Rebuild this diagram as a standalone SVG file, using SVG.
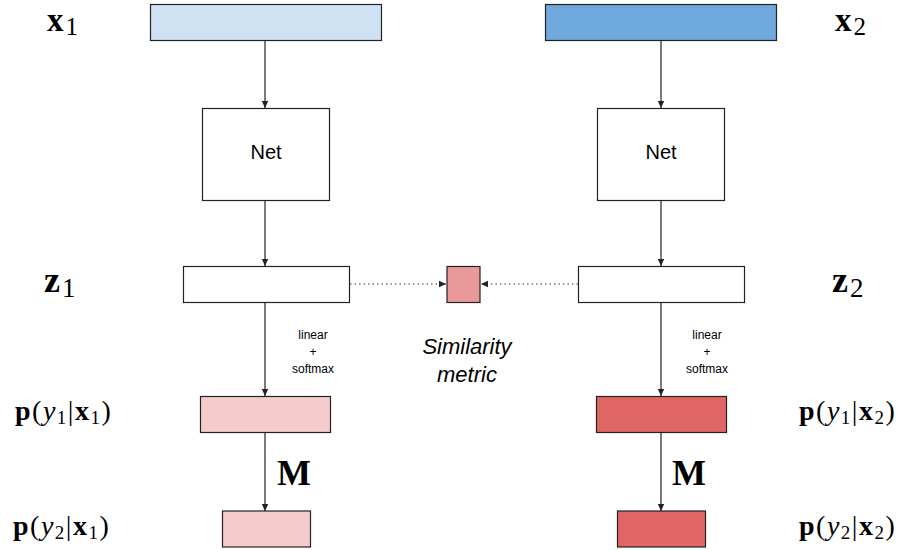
<svg xmlns="http://www.w3.org/2000/svg" width="908" height="550" viewBox="0 0 908 550">
<style>
.box{stroke:#222;stroke-width:1.2}
.conn{stroke:#333;stroke-width:1.3;fill:none}
.dot{stroke:#333;stroke-width:1.2;fill:none;stroke-dasharray:1.5,3}
.sans{font-family:"Liberation Sans",Arial,sans-serif;fill:#000}
.math{font-family:"Liberation Serif","Times New Roman",serif;fill:#000}
.big{font-size:33px}
.mid{font-size:28px;letter-spacing:1.5px}
.b{font-weight:bold}
.i{font-style:italic}
</style>
<defs>
<marker id="ah" markerWidth="8" markerHeight="8" refX="7" refY="4" orient="auto" markerUnits="userSpaceOnUse">
<path d="M0,0.8 L7,4 L0,7.2 Z" fill="#222"/>
</marker>
</defs>
<g id="connectors">
<line class="conn" x1="265" y1="40" x2="265" y2="108" marker-end="url(#ah)"/>
<line class="conn" x1="265" y1="200" x2="265" y2="266" marker-end="url(#ah)"/>
<line class="conn" x1="265" y1="302" x2="265" y2="396" marker-end="url(#ah)"/>
<line class="conn" x1="265" y1="433" x2="265" y2="511" marker-end="url(#ah)"/>
<line class="conn" x1="661" y1="40" x2="661" y2="108" marker-end="url(#ah)"/>
<line class="conn" x1="661" y1="200" x2="661" y2="266" marker-end="url(#ah)"/>
<line class="conn" x1="661" y1="302" x2="661" y2="396" marker-end="url(#ah)"/>
<line class="conn" x1="661" y1="433" x2="661" y2="511" marker-end="url(#ah)"/>
<line class="dot" x1="350" y1="284" x2="446" y2="284" marker-end="url(#ah)"/>
<line class="dot" x1="578" y1="284" x2="481" y2="284" marker-end="url(#ah)"/>
<text class="sans" font-size="12" text-anchor="middle"><tspan x="313" y="339">linear</tspan><tspan x="313" y="356">+</tspan><tspan x="313" y="373">softmax</tspan></text>
<text class="sans" font-size="12" text-anchor="middle"><tspan x="707" y="339">linear</tspan><tspan x="707" y="356">+</tspan><tspan x="707" y="373">softmax</tspan></text>
<text class="math b" font-size="36" x="277" y="485">M</text>
<text class="math b" font-size="36" x="672" y="485">M</text>
</g>
<g id="x1">
<rect class="box" x="150.5" y="4.5" width="231" height="36" fill="#cfe2f3"/>
<text class="math big" x="47" y="31"><tspan class="b">x</tspan><tspan font-size="25" dx="2" dy="4">1</tspan></text>
</g>
<g id="x2">
<rect class="box" x="545.5" y="4.5" width="231" height="36" fill="#6fa8dc"/>
<text class="math big" x="835" y="31"><tspan class="b">x</tspan><tspan font-size="25" dx="2" dy="4">2</tspan></text>
</g>
<g id="net1">
<rect class="box" x="202.5" y="108.5" width="127" height="92" fill="#fff"/>
<text class="sans" font-size="20" x="266" y="159" text-anchor="middle">Net</text>
</g>
<g id="net2">
<rect class="box" x="597.5" y="108.5" width="127" height="92" fill="#fff"/>
<text class="sans" font-size="20" x="661" y="159" text-anchor="middle">Net</text>
</g>
<g id="z1">
<rect class="box" x="183.5" y="266.5" width="166" height="36" fill="#fff"/>
<text class="math" font-size="36" x="44" y="292"><tspan class="b">z</tspan><tspan font-size="27" dx="2" dy="5">1</tspan></text>
</g>
<g id="z2">
<rect class="box" x="578.5" y="266.5" width="166" height="36" fill="#fff"/>
<text class="math" font-size="36" x="832" y="292"><tspan class="b">z</tspan><tspan font-size="27" dx="2" dy="5">2</tspan></text>
</g>
<g id="similarity">
<rect class="box" x="447" y="266.5" width="33" height="36" fill="#ea9999"/>
<text class="sans i" font-size="22" text-anchor="middle"><tspan x="467" y="354">Similarity</tspan><tspan x="467" y="382">metric</tspan></text>
</g>
<g id="p1x1">
<rect class="box" x="200.5" y="396.5" width="130" height="36" fill="#f4cccc"/>
<text class="math mid" x="15" y="420"><tspan class="b">p</tspan>(<tspan class="i">y</tspan><tspan font-size="19" dy="4">1</tspan><tspan dy="-4">|</tspan><tspan class="b">x</tspan><tspan font-size="19" dy="4">1</tspan><tspan dy="-4">)</tspan></text>
</g>
<g id="p2x1">
<rect class="box" x="222.5" y="511" width="88" height="36" fill="#f4cccc"/>
<text class="math mid" x="13" y="535"><tspan class="b">p</tspan>(<tspan class="i">y</tspan><tspan font-size="19" dy="4">2</tspan><tspan dy="-4">|</tspan><tspan class="b">x</tspan><tspan font-size="19" dy="4">1</tspan><tspan dy="-4">)</tspan></text>
</g>
<g id="p1x2">
<rect class="box" x="596.5" y="396.5" width="130" height="36" fill="#e06666"/>
<text class="math mid" x="799" y="420"><tspan class="b">p</tspan>(<tspan class="i">y</tspan><tspan font-size="19" dy="4">1</tspan><tspan dy="-4">|</tspan><tspan class="b">x</tspan><tspan font-size="19" dy="4">2</tspan><tspan dy="-4">)</tspan></text>
</g>
<g id="p2x2">
<rect class="box" x="617.5" y="511" width="88" height="36" fill="#e06666"/>
<text class="math mid" x="799" y="535"><tspan class="b">p</tspan>(<tspan class="i">y</tspan><tspan font-size="19" dy="4">2</tspan><tspan dy="-4">|</tspan><tspan class="b">x</tspan><tspan font-size="19" dy="4">2</tspan><tspan dy="-4">)</tspan></text>
</g>
</svg>
